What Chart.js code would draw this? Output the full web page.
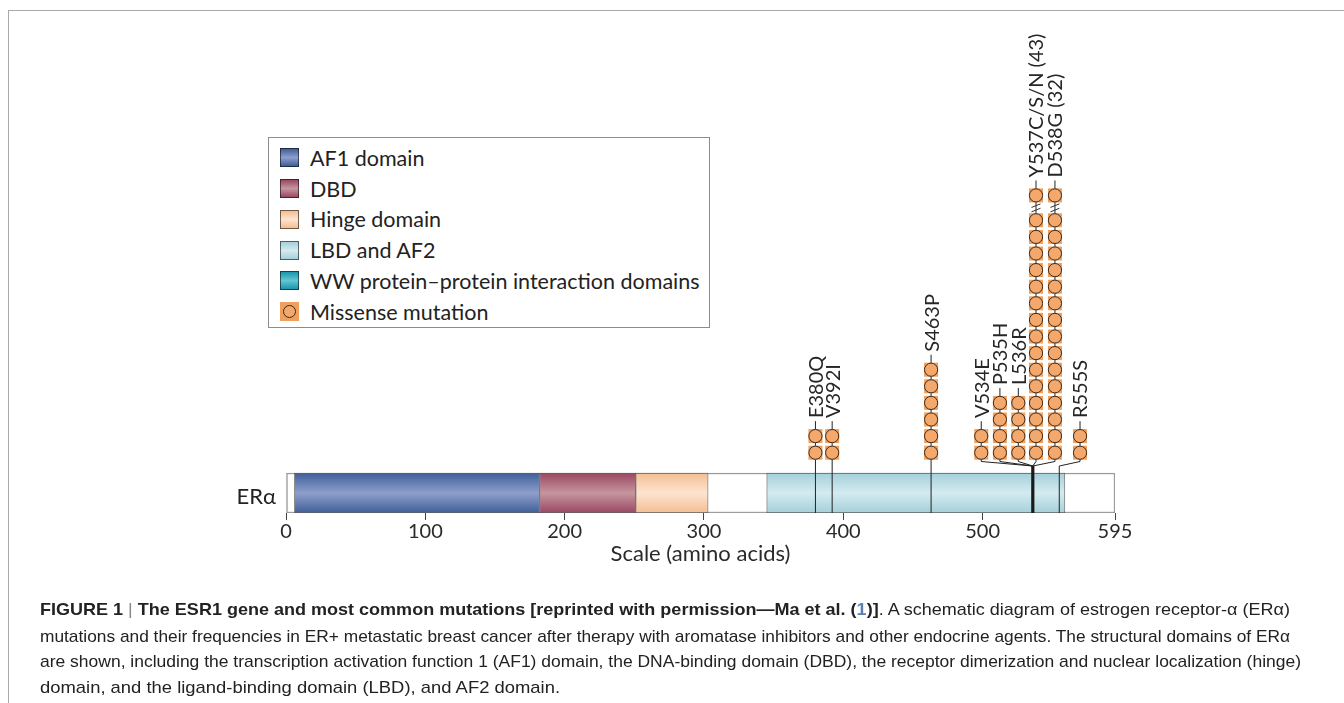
<!DOCTYPE html>
<html><head><meta charset="utf-8">
<script src="https://cdn.jsdelivr.net/npm/chart.js@4.4.0/dist/chart.umd.min.js"></script>
<style>
html,body{margin:0;padding:0;background:#fff;width:1344px;height:703px;overflow:hidden;}
#frame{position:absolute;left:8px;top:10px;width:1336px;height:693px;border-top:1.5px solid #a9a9a9;border-left:1.5px solid #a9a9a9;box-sizing:border-box}
#wrap{position:absolute;left:0;top:0;width:1344px;height:703px}
#legend{position:absolute;left:268px;top:137px;width:442px;height:191px;border:1px solid #8c8c8c;box-sizing:border-box;background:#fff;font-family:Lato,"Open Sans",sans-serif;font-size:21.5px;color:#222}
.item{position:absolute;left:11px;height:20px;display:flex;align-items:center;white-space:nowrap}
.sw{width:19px;height:19px;box-sizing:border-box;border:1px solid rgba(0,0,0,0.55);margin-right:11px;position:relative;flex:none}
.dot{position:absolute;left:2px;top:2px;width:13px;height:13px;box-sizing:border-box;border-radius:50%;border:1px solid #3d2a1c;background:#F4A76B}
#era{position:absolute;left:180px;width:96px;top:482px;text-align:right;font-family:Lato,"Open Sans",sans-serif;font-size:22px;color:#222;line-height:28px}
.cap{position:absolute;left:40px;font-family:"Liberation Sans Narrow","Liberation Sans",Arial,sans-serif;font-size:17px;line-height:20px;color:#222;white-space:nowrap;transform-origin:0 50%;display:inline-block}
.cap b{font-weight:bold}
.pipe{color:#888;font-weight:normal}
.ref{color:#5b7fb0}
</style></head>
<body>
<div id="frame"></div>
<div id="wrap"><canvas id="c" width="1344" height="703"></canvas></div>
<div id="legend"></div>
<div id="era">ERα</div>
<div class="cap" id="l1" style="top:600px"><b>FIGURE 1</b> <span class="pipe">|</span> <b>The ESR1 gene and most common mutations [reprinted with permission—Ma et al. (<span class="ref">1</span>)]</b>. A schematic diagram of estrogen receptor-α (ERα)</div>
<div class="cap" id="l2" style="top:627px">mutations and their frequencies in ER+ metastatic breast cancer after therapy with aromatase inhibitors and other endocrine agents. The structural domains of ERα</div>
<div class="cap" id="l3" style="top:652px">are shown, including the transcription activation function 1 (AF1) domain, the DNA-binding domain (DBD), the receptor dimerization and nuclear localization (hinge)</div>
<div class="cap" id="l4" style="top:678px">domain, and the ligand-binding domain (LBD), and AF2 domain.</div>
<script>
// ---------------- DATA ----------------
const proteinLength = 595;
const axisTicks = [0, 100, 200, 300, 400, 500, 595];
const domainNames = ['AF1 domain', 'DBD', 'Hinge domain', 'LBD and AF2'];
const domainStart = [6, 182, 251, 345];
const domainEnd = [182, 251, 303, 559];
const mutationNames = ['E380Q', 'V392I', 'S463P', 'V534E', 'P535H', 'L536R', 'Y537C/S/N', 'D538G', 'R555S'];
const mutationPosition = [380, 392, 463, 534, 535, 536, 537, 538, 555];
const mutationCount = [2, 2, 6, 2, 4, 4, 43, 32, 2];
const extraLegend = ['WW protein–protein interaction domains', 'Missense mutation'];

// ---------------- LAYOUT ----------------
const columnAA = [380, 392, 463, 499, 512.4, 525.6, 538.3, 551.9, 569.9]; // display column of each lollipop
const stemAA = [380, 392, 463, 536, 536, 536, 536, 536, 555];             // where the stem meets the bar
const STEP = 16.6;          // px per dot
const AREA_TOP = 20, AREA_BOTTOM = 513;
const Y_MAX = (AREA_BOTTOM - AREA_TOP) / STEP;
const BAR_PX = 40;
const BAR_Y = (BAR_PX / 2) / STEP;
const DOT_BASE = 60.3 / STEP;
const JOIN_LOW = 47 / STEP, JOIN_HIGH = 51.5 / STEP;
const MAX_DOTS = 16;
const LABEL_GAP = 18;

const domainColors = [['#3F5F98', '#8E9FCC'], ['#9A4862', '#C6959F'], ['#F4BE92', '#FDE4D0'], ['#A4D0DA', '#D4EBF0']];
const wwColor = ['#1B96AA', '#62C6D4'];

function dotY(i, k) {
  const n = Math.min(mutationCount[i], MAX_DOTS);
  if (mutationCount[i] > MAX_DOTS && k === n - 1) return DOT_BASE + k + 0.5;
  return DOT_BASE + k;
}
function dotTop(i) { return dotY(i, Math.min(mutationCount[i], MAX_DOTS) - 1); }
function labelText(i) { return mutationCount[i] > MAX_DOTS ? mutationNames[i] + ' (' + mutationCount[i] + ')' : mutationNames[i]; }

// ---------------- legend (HTML) ----------------
(function () {
  const lg = document.getElementById('legend');
  const entries = domainNames.map((n, i) => ({ name: n, c: domainColors[i] }));
  entries.push({ name: extraLegend[0], c: wwColor });
  entries.push({ name: extraLegend[1], dot: true });
  entries.forEach((e, i) => {
    const it = document.createElement('div');
    it.className = 'item';
    it.style.top = (9.7 + i * 30.8) + 'px';
    const sw = document.createElement('div');
    sw.className = 'sw';
    if (e.dot) {
      sw.style.background = '#F0A05C';
      sw.style.border = 'none';
      const d = document.createElement('div'); d.className = 'dot'; d.style.left = '3px'; d.style.top = '3px'; sw.appendChild(d);
    } else {
      sw.style.background = 'linear-gradient(to bottom,' + e.c[0] + ',' + e.c[1] + ' 50%,' + e.c[0] + ')';
    }
    it.appendChild(sw);
    const t = document.createElement('span'); t.textContent = e.name; it.appendChild(t);
    lg.appendChild(it);
  });
})();

// ---------------- datasets ----------------
function barGradient(chart, idx) {
  const ys = chart.scales.y;
  const c = domainColors[idx];
  if (!ys || !chart.chartArea) return c[0];
  const yc = ys.getPixelForValue(BAR_Y);
  const g = chart.ctx.createLinearGradient(0, yc - BAR_PX / 2, 0, yc + BAR_PX / 2);
  g.addColorStop(0, c[0]); g.addColorStop(0.5, c[1]); g.addColorStop(1, c[0]);
  return g;
}

const barData = [{ x: [0, proteinLength], y: BAR_Y }].concat(domainStart.map((s, i) => ({ x: [s, domainEnd[i]], y: BAR_Y })));

const datasets = [];
datasets.push({
  type: 'bar', label: 'ERα', indexAxis: 'y', data: barData, order: 10,
  barThickness: BAR_PX, borderSkipped: false,
  borderWidth: (c) => c.dataIndex === 0 ? 1.5 : 1,
  borderColor: (c) => c.dataIndex === 0 ? '#9c9c9c' : 'rgba(55,55,55,0.6)',
  backgroundColor: (c) => c.dataIndex === 0 ? '#ffffff' : barGradient(c.chart, c.dataIndex - 1)
});

// stems
mutationNames.forEach((n, i) => {
  const top = dotTop(i) + 0.9;
  let pts;
  if (columnAA[i] === stemAA[i]) pts = [{ x: stemAA[i], y: 0 }, { x: columnAA[i], y: top }];
  else pts = [{ x: stemAA[i], y: 0 }, { x: stemAA[i], y: JOIN_LOW }, { x: columnAA[i], y: JOIN_HIGH }, { x: columnAA[i], y: top }];
  datasets.push({ type: 'line', label: n + ' stem', data: pts, borderColor: '#222', borderWidth: 1, pointRadius: 0, fill: false, tension: 0, order: 5 });
});
// shared trunk (thick) where several stems join
const shared = stemAA.filter((v, i) => stemAA.indexOf(v) !== i).filter((v, i, a) => a.indexOf(v) === i);
shared.forEach(v => {
  datasets.push({ type: 'line', label: 'trunk', data: [{ x: v, y: 0 }, { x: v, y: JOIN_LOW }], borderColor: '#1a1a1a', borderWidth: 3.2, pointRadius: 0, fill: false, order: 4 });
});

const dotPts = [];
mutationNames.forEach((n, i) => {
  const m = Math.min(mutationCount[i], MAX_DOTS);
  for (let k = 0; k < m; k++) dotPts.push({ x: columnAA[i], y: dotY(i, k) });
});
datasets.push({ type: 'scatter', label: 'sq', data: dotPts, pointStyle: 'rect', pointRadius: 9.9, backgroundColor: '#F0A05C', borderWidth: 0, order: 2 });
datasets.push({ type: 'scatter', label: 'Missense mutation', data: dotPts, pointStyle: 'circle', pointRadius: 6.6, backgroundColor: '#F4A86C', borderColor: '#3d2a1c', borderWidth: 1, order: 1 });

const annot = {
  id: 'annot',
  afterDatasetsDraw(chart) {
    const { ctx, scales: { x, y } } = chart;
    ctx.save();
    mutationNames.forEach((n, i) => {
      const px = x.getPixelForValue(columnAA[i]);
      const ty = y.getPixelForValue(dotTop(i)) - LABEL_GAP;
      ctx.save();
      ctx.translate(px, ty);
      ctx.rotate(-Math.PI / 2);
      ctx.font = '20px Lato';
      ctx.fillStyle = '#262626';
      ctx.textAlign = 'left';
      ctx.textBaseline = 'middle';
      ctx.fillText(labelText(i), 0, 1);
      ctx.restore();
      if (mutationCount[i] > MAX_DOTS) {
        const m = MAX_DOTS;
        const yy = y.getPixelForValue(DOT_BASE + m - 2 + 0.75);
        ctx.strokeStyle = '#333'; ctx.lineWidth = 1;
        [-2.2, 2.2].forEach(d => {
          ctx.beginPath(); ctx.moveTo(px - 4.5, yy + d + 1.8); ctx.lineTo(px + 4.5, yy + d - 1.8); ctx.stroke();
        });
      }
    });
    ctx.restore();
  }
};

new Chart(document.getElementById('c'), {
  type: 'scatter',
  data: { datasets },
  options: {
    responsive: false, animation: false, events: [],
    layout: { autoPadding: false, padding: { left: 286, right: 1344 - 1115, top: AREA_TOP, bottom: 703 - AREA_BOTTOM - 56 } },
    plugins: { legend: { display: false }, tooltip: { enabled: false } },
    scales: {
      x: {
        type: 'linear', min: 0, max: proteinLength, stacked: false, offset: false,
        afterBuildTicks: (s) => { s.ticks = axisTicks.map(v => ({ value: v })); },
        afterFit: (s) => { s.height = 56; },
        grid: { offset: false, drawOnChartArea: false, drawTicks: true, tickLength: 7, tickColor: '#444', tickWidth: 1 },
        border: { display: false },
        ticks: { color: '#2a2a2a', font: { family: 'Lato', size: 20 }, padding: 0, maxRotation: 0, autoSkip: false },
        title: { display: true, text: 'Scale (amino acids)', color: '#2a2a2a', font: { family: 'Lato', size: 22 }, padding: { top: 0, bottom: 2 } }
      },
      y: { type: 'linear', min: 0, max: Y_MAX, display: false, offset: false, grid: { offset: false } }
    }
  },
  plugins: [annot]
});

// caption fit
const targets = { l1: 1250, l2: 1250, l3: 1261, l4: 520 };
Object.keys(targets).forEach(id => {
  const el = document.getElementById(id);
  const w = el.getBoundingClientRect().width;
  el.style.transform = 'scaleX(' + (targets[id] / w) + ')';
});
</script>
</body></html>
